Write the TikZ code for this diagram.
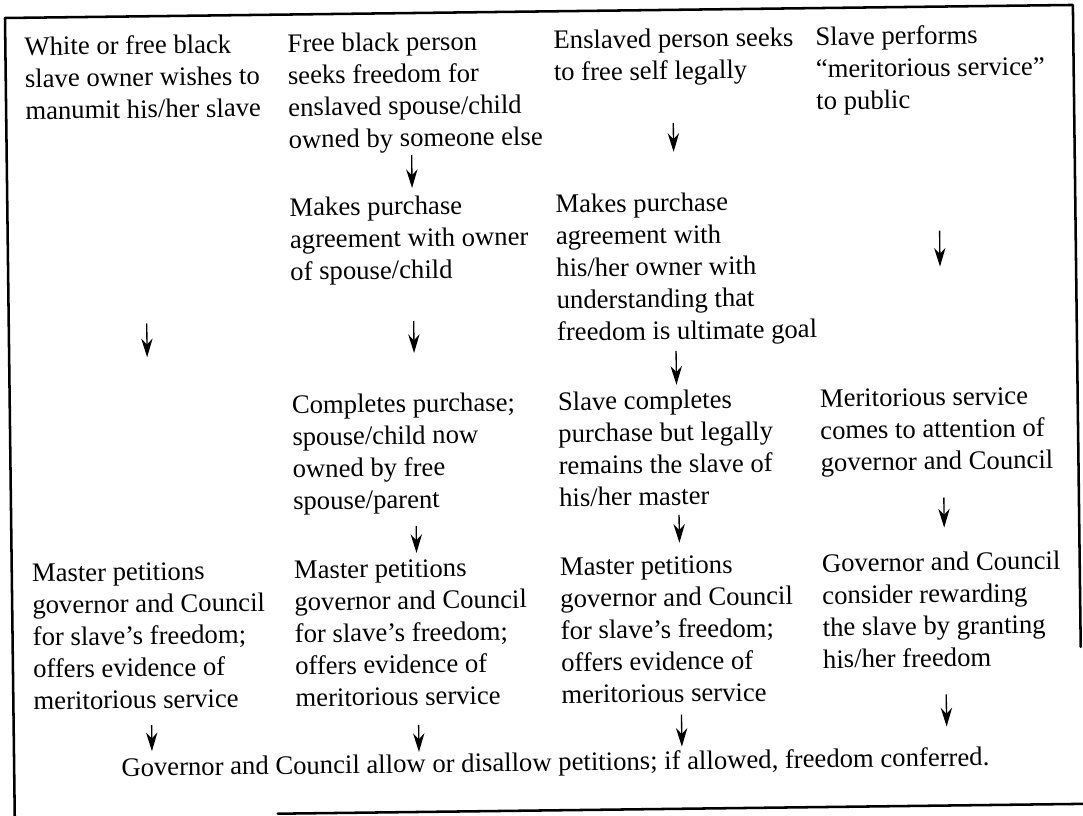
\documentclass[tikz,border=0pt]{standalone}
\usepackage{fontspec}
\setmainfont{Liberation Serif}
\usetikzlibrary{arrows.meta}
\begin{document}
\begin{tikzpicture}[x=0.75pt,y=-0.75pt,
  txt/.style={anchor=north west, align=left, inner sep=0pt, font=\fontsize{20}{24}\selectfont},
  arr/.style={line width=1pt, -{Stealth[length=14pt,width=8.5pt,inset=4.5pt]}},
  frameline/.style={line width=1.9pt, line cap=round, line join=round}]
\useasboundingbox (0,0) rectangle (1083,816);
\begin{scope}[rotate around={0.7:(5,18)}, transform shape]
% frame
\draw[frameline] (5,830) -- (5,18) -- (1073,18) -- (1073,660);
\draw[frameline] (268,817) -- (1100,817);
% row 1
\node[txt] (c1r1) at (24,33) {\strut White or free black\\slave owner wishes to\\manumit his/her slave};
\node[txt] (c2r1) at (287,33) {\strut Free black person\\seeks freedom for\\enslaved spouse/child\\owned by someone else};
\node[txt] (c3r1) at (553,33) {\strut Enslaved person seeks\\to free self legally};
\node[txt] (c4r1) at (815,33) {\strut Slave performs\\“meritorious service”\\to public};
% row 2
\node[txt] (c2r2) at (287,197) {\strut Makes purchase\\agreement with owner\\of spouse/child};
\node[txt] (c3r2) at (553,197) {\strut Makes purchase\\agreement with\\his/her owner with\\understanding that\\freedom is ultimate goal};
% row 3
\node[txt] (c2r3) at (287,394.5) {\strut Completes purchase;\\spouse/child now\\owned by free\\spouse/parent};
\node[txt] (c3r3) at (553,394.5) {\strut Slave completes\\purchase but legally\\remains the slave of\\his/her master};
\node[txt] (c4r3) at (815,394.5) {\strut Meritorious service\\comes to attention of\\governor and Council};
% row 4
\node[txt] (c1r4) at (25,559.5) {\strut Master petitions\\governor and Council\\for slave’s freedom;\\offers evidence of\\meritorious service};
\node[txt] (c2r4) at (287,559.5) {\strut Master petitions\\governor and Council\\for slave’s freedom;\\offers evidence of\\meritorious service};
\node[txt] (c3r4) at (553,559.5) {\strut Master petitions\\governor and Council\\for slave’s freedom;\\offers evidence of\\meritorious service};
\node[txt] (c4r4) at (815,559.5) {\strut Governor and Council\\consider rewarding\\the slave by granting\\his/her freedom};
% bottom
\node[txt] (fin) at (112,755) {\strut Governor and Council allow or disallow petitions; if allowed, freedom conferred.};
% arrow ends
\coordinate (a1s) at (143,325); \coordinate (a1e) at (143,359);
\coordinate (a1bs) at (143,727); \coordinate (a1be) at (143,753);
\coordinate (a2s) at (410,160); \coordinate (a2e) at (410,193);
\coordinate (a2bs) at (410,326); \coordinate (a2be) at (410,358);
\coordinate (a2cs) at (410,531); \coordinate (a2ce) at (410,558);
\coordinate (a2ds) at (410,730); \coordinate (a2de) at (410,757);
\coordinate (a3s) at (672,131); \coordinate (a3e) at (672,160);
\coordinate (a3bs) at (672,359); \coordinate (a3be) at (672,393);
\coordinate (a3cs) at (673,523); \coordinate (a3ce) at (673,551);
\coordinate (a3ds) at (673,723); \coordinate (a3de) at (673,755);
\coordinate (a4s) at (937,242); \coordinate (a4e) at (937,278);
\coordinate (a4bs) at (938,509); \coordinate (a4be) at (938,539);
\coordinate (a4cs) at (938,706); \coordinate (a4ce) at (938,738);
\foreach \p in {a1,a1b,a2,a2b,a2c,a2d,a3,a3b,a3c,a3d,a4,a4b,a4c}
  \draw[arr] (\p s) -- (\p e);
\end{scope}
\end{tikzpicture}
\end{document}
